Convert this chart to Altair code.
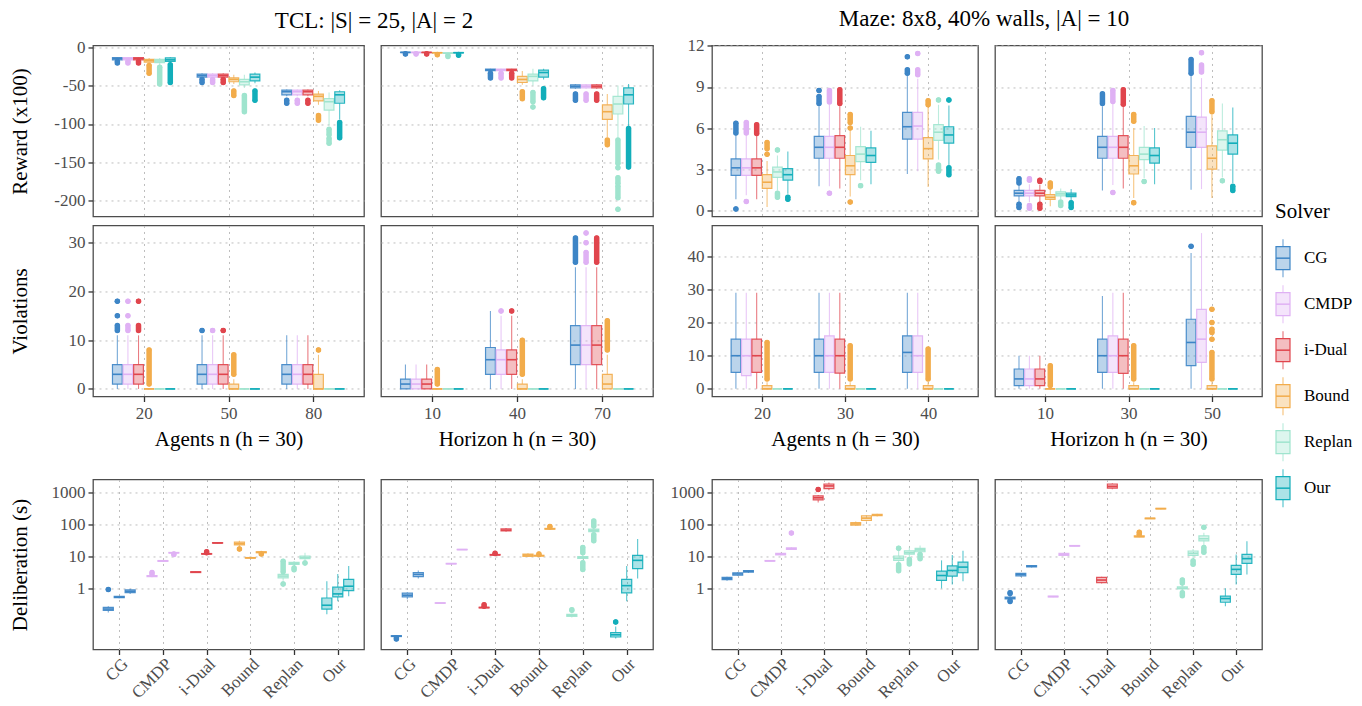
import altair as alt
import pandas as pd

FONT = "Liberation Serif"
SOLVERS = ["CG", "CMDP", "i-Dual", "Bound", "Replan", "Our"]
COLORS = ["#3D85C6", "#DFB1F4", "#E0454D", "#F2AC4B", "#9FE4CE", "#12AEBA"]

AGENTS_TCL = ["20", "50", "80"]
HORIZON_TCL = ["10", "40", "70"]
AGENTS_MAZE = ["20", "30", "40"]
HORIZON_MAZE = ["10", "30", "50"]

Z = [0, 0, 0, 0, 0]

# box stats per solver and x value: [lower whisker, Q1, median, Q3, upper whisker]
# outliers: runs of outlier points as [from, to]
TCL_REW_N = {
    "CG": [[-17, -16.5, -15, -13.5, -13], [-41, -39, -37, -35, -34], [-64, -62, -58, -56, -55]],
    "CMDP": [[-17, -16.5, -15, -13.5, -13], [-41, -39, -37, -35, -34], [-64, -62, -58, -56, -55]],
    "i-Dual": [[-17, -16.5, -15, -13.5, -13], [-41, -39, -37, -35, -34], [-64, -62, -58, -56, -55]],
    "Bound": [[-22, -19.5, -17.5, -16, -14], [-48, -45, -42, -40, -36], [-75, -70, -64, -61, -57]],
    "Replan": [[-24, -20, -18, -16, -14], [-53, -49, -45, -42, -36], [-102, -82, -71, -67, -59]],
    "Our": [[-21, -18.5, -16.5, -14, -13], [-47, -44, -39, -35, -33], [-94, -73, -62, -58, -56]],
}
TCL_REW_N_OUT = {
    "CG": [[[-18.5, -20.5]], [[-42, -46]], [[-69, -73]]],
    "CMDP": [[[-18.5, -20.5]], [[-42, -46]], [[-69, -73]]],
    "i-Dual": [[[-18.5, -20.5]], [[-42, -46]], [[-69, -73]]],
    "Bound": [[[-24, -34]], [[-57, -63]], [[-89, -95]]],
    "Replan": [[[-26, -48]], [[-63, -84]], [[-107, -114], [-119, -125]]],
    "Our": [[[-23, -46]], [[-57, -69]], [[-98, -118]]],
}
TCL_REW_H = {
    "CG": [[-7.2, -7, -6.8, -6.6, -6.3], [-31, -30.5, -29.5, -28.5, -28], [-54, -53, -51, -49, -48]],
    "CMDP": [[-7.2, -7, -6.8, -6.6, -6.3], [-31, -30.5, -29.5, -28.5, -28], [-54, -53, -51, -49, -48]],
    "i-Dual": [[-7.2, -7, -6.8, -6.6, -6.3], [-31, -30.5, -29.5, -28.5, -28], [-54, -53, -51, -49, -48]],
    "Bound": [[-8, -7.5, -7.2, -7, -6.7], [-49, -46, -42, -38, -31], [-117, -94, -84, -75, -61]],
    "Replan": [[-8.5, -8, -7.8, -7.5, -7.2], [-50, -44, -38, -35, -28], [-118, -87, -74, -64, -50]],
    "Our": [[-8, -7.5, -7.2, -7, -6.7], [-42, -39, -33, -30, -28], [-103, -74, -62, -53, -48]],
}
TCL_REW_H_OUT = {
    "CG": [[[-8.5, -9]], [[-34, -40]], [[-61, -69]]],
    "CMDP": [[[-8.5, -9]], [[-34, -40]], [[-61, -69]]],
    "i-Dual": [[[-8.5, -9]], [[-34, -40]], [[-61, -69]]],
    "Bound": [[[-9.5, -10]], [[-58, -67]], [[-121, -127]]],
    "Replan": [[[-11, -12]], [[-59, -71], [-78, -78]],
               [[-121, -151], [-157, -157], [-170, -177], [-181, -196], [-211, -211]]],
    "Our": [[[-9.5, -10.5]], [[-54, -66]], [[-106, -156]]],
}
MAZE_REW_N = {
    "CG": [[0.8, 2.55, 3.1, 3.75, 5.55], [1.75, 3.8, 4.6, 5.4, 7.6], [2.65, 5.2, 6.1, 7.15, 9.8]],
    "CMDP": [[1.1, 2.55, 3.1, 3.75, 5.55], [1.75, 3.8, 4.6, 5.4, 7.7], [2.85, 5.2, 6.15, 7.15, 9.6]],
    "i-Dual": [[0.8, 2.55, 3.1, 3.75, 5.45], [1.6, 3.8, 4.6, 5.45, 7.6], None],
    "Bound": [[0.25, 1.6, 2.05, 2.6, 3.6], [1.0, 2.6, 3.25, 4.0, 5.8], [1.7, 3.75, 4.5, 5.3, 7.55]],
    "Replan": [[1.45, 2.4, 2.8, 3.15, 4.0], [2.2, 3.55, 4.1, 4.65, 6.1], [3.7, 5.1, 5.7, 6.25, 7.7]],
    "Our": [[1.2, 2.2, 2.6, 3.05, 4.3], [1.9, 3.5, 4.0, 4.55, 5.8], [3.3, 4.9, 5.5, 6.1, 7.65]],
}
MAZE_REW_N_OUT = {
    "CG": [[[5.65, 6.35], [0.1, 0.1]], [[7.8, 8.3], [8.75, 8.75]], [[10.0, 10.25], [11.2, 11.2]]],
    "CMDP": [[[5.65, 6.4], [0.65, 0.65]], [[7.9, 8.75], [1.25, 1.25]], [[9.9, 10.25], [11.45, 11.45]]],
    "i-Dual": [[[5.6, 6.25]], [[7.8, 8.8]], []],
    "Bound": [[[4.1, 4.1], [4.5, 4.95]], [[6.0, 6.0], [6.4, 7.0], [0.6, 0.6]], [[7.7, 8.0]]],
    "Replan": [[[4.4, 4.4], [0.95, 1.25]], [[1.8, 1.8]], [[8.05, 8.05], [2.85, 3.3]]],
    "Our": [[[0.8, 0.95]], [], [[8.05, 8.05], [2.6, 3.1]]],
}
MAZE_REW_H = {
    "CG": [[0.6, 1.05, 1.25, 1.45, 1.85], [1.45, 3.8, 4.6, 5.4, 7.6], [1.5, 4.6, 5.7, 6.85, 9.9]],
    "CMDP": [[0.6, 1.05, 1.25, 1.45, 1.9], [1.85, 3.8, 4.6, 5.4, 7.8], [1.55, 4.6, 5.7, 6.8, 9.65]],
    "i-Dual": [[0.6, 1.05, 1.25, 1.45, 1.85], [1.6, 3.8, 4.6, 5.45, 7.6], None],
    "Bound": [[0.3, 0.8, 0.95, 1.15, 1.55], [0.9, 2.65, 3.25, 4.0, 6.0], [0.9, 3.0, 3.8, 4.7, 7.0]],
    "Replan": [[0.8, 1.05, 1.2, 1.35, 1.6], [2.35, 3.7, 4.1, 4.6, 6.15], [2.4, 4.4, 5.15, 5.8, 7.8]],
    "Our": [[0.75, 1.0, 1.12, 1.25, 1.55], [1.9, 3.45, 4.0, 4.55, 6.0], [2.0, 4.1, 4.9, 5.5, 7.5]],
}
MAZE_REW_H_OUT = {
    "CG": [[[2.0, 2.3], [0.2, 0.45]], [[7.8, 8.5]], [[10.0, 11.0]]],
    "CMDP": [[[2.2, 2.3], [0.15, 0.35]], [[7.95, 8.75], [1.3, 1.3]], [[10.1, 10.6], [11.5, 11.5]]],
    "i-Dual": [[[2.1, 2.2], [0.15, 0.45]], [[7.75, 8.8]], []],
    "Bound": [[[1.7, 2.0]], [[6.5, 7.0], [0.55, 0.55]], [[7.2, 8.0]]],
    "Replan": [[[0.35, 0.6]], [[2.1, 2.1]], [[2.15, 2.15]]],
    "Our": [[[0.2, 0.55]], [], [[1.45, 1.75]]],
}
TCL_VIO_N = {
    "CG": [[0, 1, 3, 5, 11], [0, 1, 3, 5, 11], [0, 1, 3, 5, 11]],
    "CMDP": [[0, 1, 3, 5, 11], [0, 1, 3, 5, 11], [0, 1, 3, 5, 11]],
    "i-Dual": [[0, 1, 3, 5, 11], [0, 1, 3, 5, 11], [0, 1, 3, 5, 11]],
    "Bound": [Z, [0, 0, 0, 1, 2], [0, 0, 0, 3, 7]],
    "Replan": [Z, Z, Z],
    "Our": [Z, Z, Z],
}
TCL_VIO_N_OUT = {
    "CG": [[[12, 13], [15, 15], [18, 18]], [[12, 12]], []],
    "CMDP": [[[12, 13], [15, 15], [18, 18]], [[12, 12]], []],
    "i-Dual": [[[12, 13], [18, 18]], [[12, 12]], []],
    "Bound": [[[1, 8]], [[3, 7]], [[8, 8]]],
}
TCL_VIO_H = {
    "CG": [[0, 0, 1, 2, 5], [0, 3, 6, 8.5, 16], [0, 5, 9, 13, 25]],
    "CMDP": [[0, 0, 1, 2, 5], [0, 3, 6, 8, 15], [0, 5, 9, 13, 25]],
    "i-Dual": [[0, 0, 1, 2, 5], [0, 3, 6, 8, 15], [0, 5, 9, 13, 25]],
    "Bound": [Z, [0, 0, 0, 1, 2], [0, 0, 1, 3, 7]],
    "Replan": [Z, Z, Z],
    "Our": [Z, Z, Z],
}
TCL_VIO_H_OUT = {
    "CG": [[], [], [[26, 31]]],
    "CMDP": [[], [[16, 16]], [[26, 28], [30, 30], [32, 32]]],
    "i-Dual": [[], [[16, 16]], [[26, 31]]],
    "Bound": [[[1, 4]], [[3, 10]], [[8, 14]]],
}
MAZE_VIO_N = {
    "CG": [[0, 5, 10, 15, 29], [0, 5, 10, 15, 29], [0, 5, 11, 16, 29]],
    "CMDP": [[0, 4, 10, 15, 29], [0, 5, 10, 16, 29], [0, 5, 10, 16, 29]],
    "i-Dual": [[0, 5, 10, 15, 29], [0, 4.75, 10, 15, 29], None],
    "Bound": [[0, 0, 0, 1, 2], [0, 0, 0, 1, 2], [0, 0, 0, 1, 2]],
    "Replan": [Z, Z, Z],
    "Our": [Z, Z, Z],
}
MAZE_VIO_N_OUT = {
    "Bound": [[[3, 14]], [[3, 13]], [[3, 12]]],
}
MAZE_VIO_H = {
    "CG": [[0, 1, 3, 6, 10], [0, 5, 10, 15, 28], [0, 7, 14, 21, 41]],
    "CMDP": [[0, 1, 3, 6, 10], [0, 5, 10, 16, 29], [0, 8, 15, 24, 47]],
    "i-Dual": [[0, 1, 3, 6, 10], [0, 4.7, 10, 15, 29], None],
    "Bound": [Z, [0, 0, 0, 1, 2], [0, 0, 0, 1, 2]],
    "Replan": [Z, Z, Z],
    "Our": [Z, Z, Z],
}
MAZE_VIO_H_OUT = {
    "CG": [[], [], [[43, 43]]],
    "Bound": [[[1, 7]], [[3, 13]], [[3, 11], [15, 15], [17, 18], [20, 20], [24, 24]]],
}
TCL_DEL_N = {
    "CG": [[0.17, 0.2, 0.22, 0.25, 0.27], [0.48, 0.5, 0.52, 0.55, 0.57], [0.65, 0.72, 0.8, 0.88, 0.95]],
    "CMDP": [[2.2, 2.3, 2.4, 2.5, 2.6], [6.9, 7.0, 7.2, 7.4, 7.5], [12.5, 12.8, 13, 13.3, 13.6]],
    "i-Dual": [[3.0, 3.1, 3.2, 3.3, 3.4], [11.5, 11.8, 12, 12.3, 12.5], [25, 26, 26.5, 27, 27.5]],
    "Bound": [[20, 23, 25, 28, 31], [8.6, 8.8, 9, 9.2, 9.4], [12.5, 13, 13.5, 14, 15]],
    "Replan": [[1.7, 2.1, 2.4, 2.7, 3.0], [5.0, 5.6, 6.0, 6.5, 7.2], [7.5, 8.5, 9.3, 10.3, 13]],
    "Our": [[0.15, 0.22, 0.29, 0.49, 1.65], [0.39, 0.53, 0.66, 1.08, 2.8], [0.56, 0.84, 1.15, 1.9, 5.0]],
}
TCL_DEL_N_OUT = {
    "CG": [[[0.9, 0.9]], [], []],
    "CMDP": [[[2.8, 3.1]], [], [[11.5, 12]]],
    "i-Dual": [[], [[13, 14]], []],
    "Bound": [[[17, 17]], [], [[12, 12]]],
    "Replan": [[[3.3, 7], [1.35, 1.35]], [[3.8, 4.3]], [[6.2, 6.2]]],
}
TCL_DEL_H = {
    "CG": [[0.028, 0.03, 0.031, 0.032, 0.033], [0.45, 0.53, 0.6, 0.7, 0.75], [2.0, 2.3, 2.7, 3.1, 3.6]],
    "CMDP": [[0.33, 0.335, 0.34, 0.345, 0.35], [5.7, 5.8, 5.9, 6.0, 6.1], [16, 16.2, 16.4, 16.6, 16.8]],
    "i-Dual": [[0.235, 0.24, 0.245, 0.25, 0.26], [10.8, 11, 11.2, 11.5, 11.8], [60, 63, 67, 73, 78]],
    "Bound": [[9.5, 10, 11, 11.8, 12.5], [10, 10.3, 10.5, 10.8, 11], [70, 72, 74, 76, 78]],
    "Replan": [[0.12, 0.13, 0.14, 0.15, 0.16], [8, 8.6, 9.2, 9.8, 11], [55, 60, 66, 72, 80]],
    "Our": [[0.026, 0.029, 0.034, 0.04, 0.062], [0.39, 0.71, 1.2, 1.9, 5.0], [2.0, 4.1, 7.5, 10.8, 35]],
}
TCL_DEL_H_OUT = {
    "CG": [[[0.025, 0.027]], [], []],
    "i-Dual": [[[0.27, 0.3]], [[12.3, 12.6]], []],
    "Bound": [[], [[11.5, 12]], [[84, 88]]],
    "Replan": [[[0.2, 0.21]], [[13, 19], [3.9, 6.3]], [[90, 130], [31, 48]]],
    "Our": [[[0.086, 0.086]], [], []],
}
MAZE_DEL_N = {
    "CG": [[1.7, 1.85, 2.0, 2.2, 2.3], [2.4, 2.55, 2.8, 3.05, 3.2], [3.0, 3.2, 3.4, 3.6, 3.7]],
    "CMDP": [[7.0, 7.1, 7.2, 7.4, 7.5], [10.8, 11.2, 11.8, 12.5, 13], [16, 16.5, 17.5, 18.5, 19.5]],
    "i-Dual": [[500, 600, 700, 800, 850], [1200, 1350, 1650, 1900, 2100], None],
    "Bound": [[90, 97, 105, 115, 125], [125, 135, 160, 190, 200], [180, 190, 200, 212, 220]],
    "Replan": [[5.8, 7.5, 8.7, 10.3, 15], [8.7, 11.7, 13, 15, 19], [12.5, 14, 16, 18, 22]],
    "Our": [[0.98, 1.75, 2.5, 3.45, 7.5], [1.3, 2.4, 3.6, 5.0, 11], [1.65, 3.05, 4.6, 6.6, 15]],
}
MAZE_DEL_N_OUT = {
    "CMDP": [[], [], [[54, 54]]],
    "i-Dual": [[[1280, 1280]], [], []],
    "Replan": [[[18, 18], [3.5, 5.5]], [[5.8, 8]], [[8.5, 11.5]]],
}
MAZE_DEL_H = {
    "CG": [[0.42, 0.46, 0.49, 0.52, 0.6], [2.3, 2.45, 2.7, 2.9, 3.0], [4.5, 4.65, 4.9, 5.1, 5.3]],
    "CMDP": [[0.52, 0.53, 0.545, 0.56, 0.57], [10.5, 10.8, 11.5, 12.5, 13], [20.5, 21, 21.5, 22, 22.5]],
    "i-Dual": [[1.4, 1.5, 1.8, 2.2, 2.3], [1300, 1400, 1600, 1900, 2000], None],
    "Bound": [[40, 41, 42, 44, 46], [150, 153, 157, 160, 163], [305, 312, 318, 325, 332]],
    "Replan": [[0.85, 0.95, 1.0, 1.1, 1.3], [8.5, 10.8, 12.5, 14.8, 17], [22, 31, 36, 44, 55]],
    "Our": [[0.27, 0.36, 0.47, 0.56, 1.0], [1.3, 2.7, 3.9, 5.2, 11.5], [2.7, 6.05, 8.5, 11.6, 30]],
}
MAZE_DEL_H_OUT = {
    "CG": [[[0.68, 0.72], [0.38, 0.4]], [], []],
    "Bound": [[[50, 58]], [], []],
    "Replan": [[[1.45, 1.8], [0.58, 0.72]], [[5.7, 7.2]], [[82, 82], [13.5, 19]]],
}

CSCALE = alt.Scale(domain=SOLVERS, range=COLORS)


def frames(stats, outl, mode):
    slots = []
    if mode == "group":
        step = 0.75 / 6
        for gi in range(3):
            present = [s for s in SOLVERS if stats[s][gi] is not None]
            for k, s in enumerate(present):
                slots.append((s, gi, gi + 1 + (k - (len(present) - 1) / 2) * step))
    else:
        step = 0.75 / 3
        for si, s in enumerate(SOLVERS):
            present = [gi for gi in range(3) if stats[s][gi] is not None]
            for k, gi in enumerate(present):
                slots.append((s, gi, si + 1 + (k - (len(present) - 1) / 2) * step))
    half = step * 0.92 / 2
    box, out = [], []
    for s, gi, xc in slots:
        lo, q1, md, q3, hi = stats[s][gi]
        box.append(dict(solver=s, xc=xc, xl=xc - half, xr=xc + half,
                        lo=lo, q1=q1, med=md, q3=q3, hi=hi))
        for a, b in outl.get(s, [[], [], []])[gi]:
            out.append(dict(solver=s, xc=xc, a=a, b=b))
    return pd.DataFrame(box), pd.DataFrame(out, columns=["solver", "xc", "a", "b"])


def panel(stats, outl, mode, labels, ydom, yvals, width, height, ylog=False,
          ylabels=False, ytitle=None, xlabels=False, xtitle=None, angle=False):
    box, out = frames(stats, outl, mode)
    n = len(labels)
    xs = alt.Scale(domain=[0.4, n + 0.6], nice=False, zero=False)
    if ylog:
        ys = alt.Scale(type="log", domain=ydom, nice=False)
    else:
        ys = alt.Scale(domain=ydom, nice=False, zero=False)
    arr = "[''," + ",".join("'" + l + "'" for l in labels) + "]"
    xkw = dict(values=list(range(1, n + 1)), labelExpr=arr + "[datum.value]", grid=True,
               labels=xlabels, ticks=xlabels, labelFlush=False, labelOverlap=False,
               title=xtitle, titlePadding=7, labelPadding=4)
    if angle:
        xkw.update(labelAngle=-45, labelAlign="right", labelBaseline="top", labelPadding=1)
    xaxis = alt.Axis(**xkw)
    ext = 46 if ylabels else 0
    yaxis = alt.Axis(values=yvals, labelExpr="'' + datum.value", grid=True, labels=ylabels,
                     ticks=ylabels, labelFlush=False, labelOverlap=False, title=ytitle,
                     minExtent=ext, maxExtent=ext, titlePadding=17, labelPadding=3)
    col = alt.Color("solver:N", scale=CSCALE, legend=None)
    stk = alt.Stroke("solver:N", scale=CSCALE, legend=None)

    def X(f):
        return alt.X(f + ":Q", scale=xs, axis=xaxis)

    def Y(f):
        return alt.Y(f + ":Q", scale=ys, axis=yaxis)

    b = alt.Chart(box)
    rect = b.mark_rect(fillOpacity=0.35, strokeWidth=1.2, strokeOpacity=0.9).encode(
        x=X("xl"), x2="xr:Q", y=Y("q1"), y2="q3:Q", color=col, stroke=stk)
    wlo = b.mark_rule(strokeWidth=1.1, opacity=0.7).encode(
        x=X("xc"), y=Y("lo"), y2="q1:Q", color=col)
    whi = b.mark_rule(strokeWidth=1.1, opacity=0.7).encode(
        x=X("xc"), y=Y("q3"), y2="hi:Q", color=col)
    med = b.mark_rule(strokeWidth=1.6).encode(
        x=X("xl"), x2="xr:Q", y=Y("med"), color=col)
    o = alt.Chart(out)
    oseg = o.mark_rule(strokeWidth=5.5, strokeCap="round").encode(
        x=X("xc"), y=Y("a"), y2="b:Q", color=col)
    oa = o.mark_circle(size=24, opacity=1).encode(x=X("xc"), y=Y("a"), color=col)
    ob = o.mark_circle(size=24, opacity=1).encode(x=X("xc"), y=Y("b"), color=col)
    return alt.layer(rect, wlo, whi, med, oseg, oa, ob).properties(width=width, height=height)


W = [271, 272, 266, 267]
H12 = 171
H3 = 170
TCL_REW_DOM = [-220.4, 2.2]
TCL_REW_TICKS = [-200, -150, -100, -50, 0]
MAZE_REW_DOM = [-0.45, 12.03]
MAZE_REW_TICKS = [0, 3, 6, 9, 12]
TCL_VIO_DOM = [-1.55, 33.55]
TCL_VIO_TICKS = [0, 10, 20, 30]
MAZE_VIO_DOM = [-2.3, 49.3]
MAZE_VIO_TICKS = [0, 10, 20, 30, 40]
DEL_DOM = [0.01174, 2636]
DEL_TICKS = [1, 10, 100, 1000]

p11 = panel(TCL_REW_N, TCL_REW_N_OUT, "group", AGENTS_TCL, TCL_REW_DOM, TCL_REW_TICKS, W[0], H12,
            ylabels=True, ytitle="Reward (x100)")
p12 = panel(TCL_REW_H, TCL_REW_H_OUT, "group", HORIZON_TCL, TCL_REW_DOM, TCL_REW_TICKS, W[1], H12)
p13 = panel(MAZE_REW_N, MAZE_REW_N_OUT, "group", AGENTS_MAZE, MAZE_REW_DOM, MAZE_REW_TICKS, W[2], H12,
            ylabels=True)
p14 = panel(MAZE_REW_H, MAZE_REW_H_OUT, "group", HORIZON_MAZE, MAZE_REW_DOM, MAZE_REW_TICKS, W[3], H12)

p21 = panel(TCL_VIO_N, TCL_VIO_N_OUT, "group", AGENTS_TCL, TCL_VIO_DOM, TCL_VIO_TICKS, W[0], H12,
            ylabels=True, ytitle="Violations", xlabels=True, xtitle="Agents n (h = 30)")
p22 = panel(TCL_VIO_H, TCL_VIO_H_OUT, "group", HORIZON_TCL, TCL_VIO_DOM, TCL_VIO_TICKS, W[1], H12,
            xlabels=True, xtitle="Horizon h (n = 30)")
p23 = panel(MAZE_VIO_N, MAZE_VIO_N_OUT, "group", AGENTS_MAZE, MAZE_VIO_DOM, MAZE_VIO_TICKS, W[2], H12,
            ylabels=True, xlabels=True, xtitle="Agents n (h = 30)")
p24 = panel(MAZE_VIO_H, MAZE_VIO_H_OUT, "group", HORIZON_MAZE, MAZE_VIO_DOM, MAZE_VIO_TICKS, W[3], H12,
            xlabels=True, xtitle="Horizon h (n = 30)")

p31 = panel(TCL_DEL_N, TCL_DEL_N_OUT, "solver", SOLVERS, DEL_DOM, DEL_TICKS, W[0], H3, ylog=True,
            ylabels=True, ytitle="Deliberation (s)", xlabels=True, angle=True)
p32 = panel(TCL_DEL_H, TCL_DEL_H_OUT, "solver", SOLVERS, DEL_DOM, DEL_TICKS, W[1], H3, ylog=True,
            xlabels=True, angle=True)
p33 = panel(MAZE_DEL_N, MAZE_DEL_N_OUT, "solver", SOLVERS, DEL_DOM, DEL_TICKS, W[2], H3, ylog=True,
            ylabels=True, xlabels=True, angle=True)
p34 = panel(MAZE_DEL_H, MAZE_DEL_H_OUT, "solver", SOLVERS, DEL_DOM, DEL_TICKS, W[3], H3, ylog=True,
            xlabels=True, angle=True)

SP_L, SP_R, SP_G = 15, 15, 11
row1 = alt.hconcat(
    alt.hconcat(p11, p12, spacing=SP_L,
                title=alt.Title("TCL: |S| = 25, |A| = 2", anchor="middle", dx=43, offset=5)),
    alt.hconcat(p13, p14, spacing=SP_R,
                title=alt.Title("Maze: 8x8, 40% walls, |A| = 10", anchor="middle", dx=20, offset=5)),
    spacing=SP_G)
row2 = alt.hconcat(alt.hconcat(p21, p22, spacing=SP_L), alt.hconcat(p23, p24, spacing=SP_R),
                   spacing=SP_G)
row3 = alt.hconcat(alt.hconcat(p31, p32, spacing=SP_L), alt.hconcat(p33, p34, spacing=SP_R),
                   spacing=SP_G)
main = alt.vconcat(alt.vconcat(row1, row2, spacing=5), row3, spacing=28)

# legend drawn as its own small panel
ldf = pd.DataFrame({"solver": SOLVERS})
ly = alt.Y("solver:N", scale=alt.Scale(type="band", domain=SOLVERS, paddingInner=0,
                                       paddingOuter=0), axis=None)
lcol = alt.Color("solver:N", scale=CSCALE, legend=None)
lstk = alt.Stroke("solver:N", scale=CSCALE, legend=None)
lb = alt.Chart(ldf)
lw = lb.mark_tick(orient="vertical", size=38, thickness=1.2).encode(x=alt.value(8), y=ly, color=lcol)
lwhite = lb.mark_bar(height=23, color="white").encode(x=alt.value(1), x2=alt.value(15), y=ly)
lbox = lb.mark_bar(height=23, fillOpacity=0.35, strokeWidth=1.2).encode(
    x=alt.value(1), x2=alt.value(15), y=ly, color=lcol, stroke=lstk)
lmed = lb.mark_rule(strokeWidth=1.5).encode(x=alt.value(1), x2=alt.value(15), y=ly, color=lcol)
ltxt = lb.mark_text(align="left", baseline="middle", fontSize=17, font=FONT, color="black").encode(
    x=alt.value(29), y=ly, text="solver:N")
legend = alt.layer(lw, lwhite, lbox, lmed, ltxt).properties(
    width=20, height=276,
    title=alt.Title("Solver", anchor="start", offset=13, fontSize=21),
    view=alt.ViewBackground(stroke="transparent"))

chart = alt.hconcat(main, legend, spacing=11, center=True).properties(
    padding={"left": 0, "top": 0, "right": 0, "bottom": 0}
).configure(font=FONT).configure_axis(
    labelFont=FONT, labelFontSize=17, labelColor="#4D4D4D", titleFont=FONT, titleFontSize=21,
    titleFontWeight="normal", titleColor="black", tickColor="#333333", tickWidth=1.3, tickSize=5,
    gridColor="#BDBDBD", gridDash=[2, 4], gridWidth=1, domain=False
).configure_view(stroke="#4D4D4D", strokeWidth=1.3).configure_title(
    font=FONT, fontSize=23, fontWeight="normal", color="black")

chart.save("out.html", embed_options={"renderer": "svg", "actions": False})
